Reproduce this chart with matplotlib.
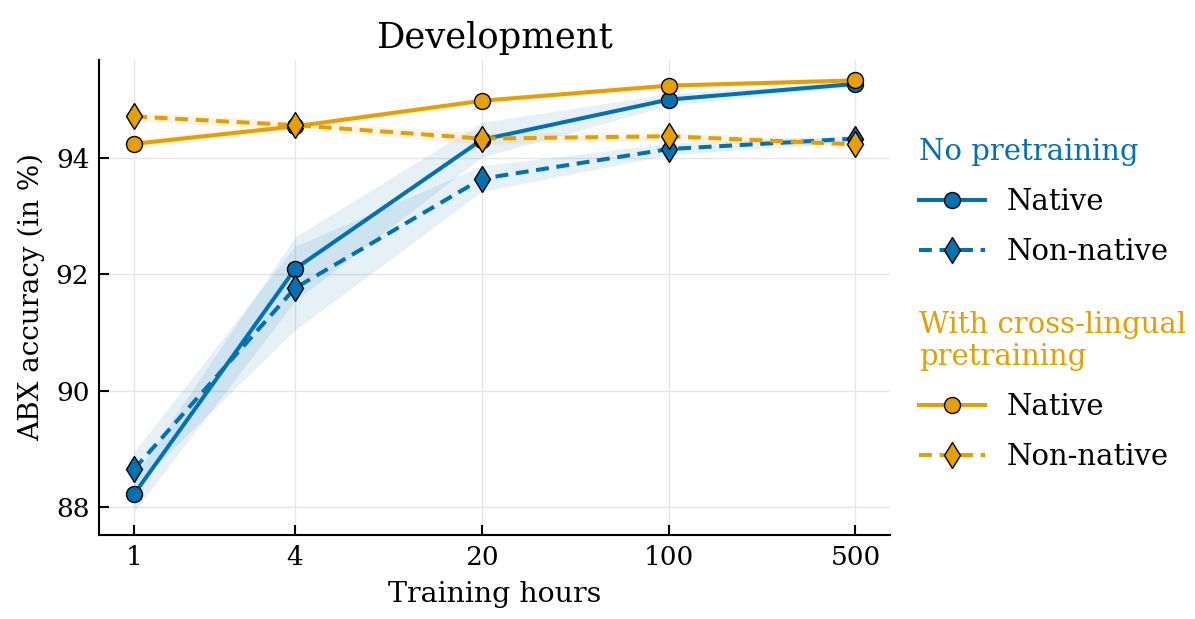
import numpy as np
import matplotlib
matplotlib.use("Agg")
import matplotlib.pyplot as plt
from matplotlib.lines import Line2D

plt.rcParams['font.family'] = ['DejaVu Serif']

# data
hours = [1, 4, 20, 100, 500]

scratch_native = [88.22, 92.09, 94.31, 95.00, 95.27]
scratch_native_sd = [0.30, 0.55, 0.30, 0.10, 0.05]
scratch_nonnative = [88.65, 91.76, 93.64, 94.15, 94.33]
scratch_nonnative_sd = [0.30, 0.72, 0.22, 0.10, 0.06]

cross_native = [94.24, 94.54, 94.98, 95.24, 95.33]
cross_native_sd = [0.08, 0.06, 0.05, 0.05, 0.04]
cross_nonnative = [94.71, 94.56, 94.33, 94.37, 94.23]
cross_nonnative_sd = [0.08, 0.07, 0.10, 0.07, 0.06]

blue = "#0072B2"
orange = "#E69F00"
LW = 2.9
CIRCLE = 11.5
DIAMOND = 13

fig = plt.figure(figsize=(11.95, 6.19), dpi=100)
ax = fig.add_axes([0.083, 0.136, 0.662, 0.767])

series = [
    (scratch_native, scratch_native_sd, blue, "-", "o"),
    (scratch_nonnative, scratch_nonnative_sd, blue, "--", "d"),
    (cross_native, cross_native_sd, orange, "-", "o"),
    (cross_nonnative, cross_nonnative_sd, orange, "--", "d"),
]

for vals, sd, col, ls, mk in series:
    vals = np.array(vals)
    sd = np.array(sd)
    ax.fill_between(hours, vals - sd, vals + sd, color=col, alpha=0.1, lw=0, zorder=1)

for vals, sd, col, ls, mk in series:
    line, = ax.plot(hours, vals, color=col, ls=ls, lw=LW, marker=mk,
                    markersize=CIRCLE if mk == "o" else DIAMOND, markerfacecolor=col,
                    markeredgecolor="black", markeredgewidth=1.0, zorder=3)
    if ls == "--":
        line.set_dashes((3.2, 1.9))

ax.set_xscale("log")
ax.set_xlim(0.74, 675)
ax.set_ylim(87.52, 95.68)
ax.set_xticks(hours)
ax.set_xticklabels([str(h) for h in hours])
ax.xaxis.set_minor_locator(matplotlib.ticker.NullLocator())
ax.set_yticks([88, 90, 92, 94])

ax.grid(True, color="#e6e6e6", lw=1.0, zorder=0)
ax.set_axisbelow(True)
for s in ["top", "right"]:
    ax.spines[s].set_visible(False)
for s in ["left", "bottom"]:
    ax.spines[s].set_linewidth(1.5)
ax.tick_params(direction="in", length=7, width=1.5, labelsize=19, pad=7)

ax.set_title("Development", fontsize=25.5, pad=9)
ax.set_xlabel("Training hours", fontsize=20.5, labelpad=8)
ax.set_ylabel("ABX accuracy (in %)", fontsize=20, labelpad=8)


def make_handles(col):
    h1 = Line2D([], [], color=col, lw=LW, marker="o", markersize=CIRCLE,
                markerfacecolor=col, markeredgecolor="black", markeredgewidth=1.0)
    h2 = Line2D([], [], color=col, lw=LW, ls="--", dashes=(3.2, 1.9), marker="d",
                markersize=DIAMOND, markerfacecolor=col, markeredgecolor="black",
                markeredgewidth=1.0)
    return [h1, h2]


legend_style = dict(loc="upper left", frameon=False, fontsize=21, title_fontsize=21,
                    handlelength=2.25, handletextpad=0.75, labelspacing=0.75,
                    borderpad=0, borderaxespad=0, alignment="left")

leg1 = fig.legend(make_handles(blue), ["Native", "Non-native"], title="No pretraining",
                  bbox_to_anchor=(0.769, 0.777), **legend_style)
leg1.get_title().set_color(blue)

leg2 = fig.legend(make_handles(orange), ["Native", "Non-native"],
                  title="With cross-lingual\npretraining",
                  bbox_to_anchor=(0.769, 0.498), **legend_style)
leg2.get_title().set_color(orange)

fig.savefig("out.png", dpi=100)
